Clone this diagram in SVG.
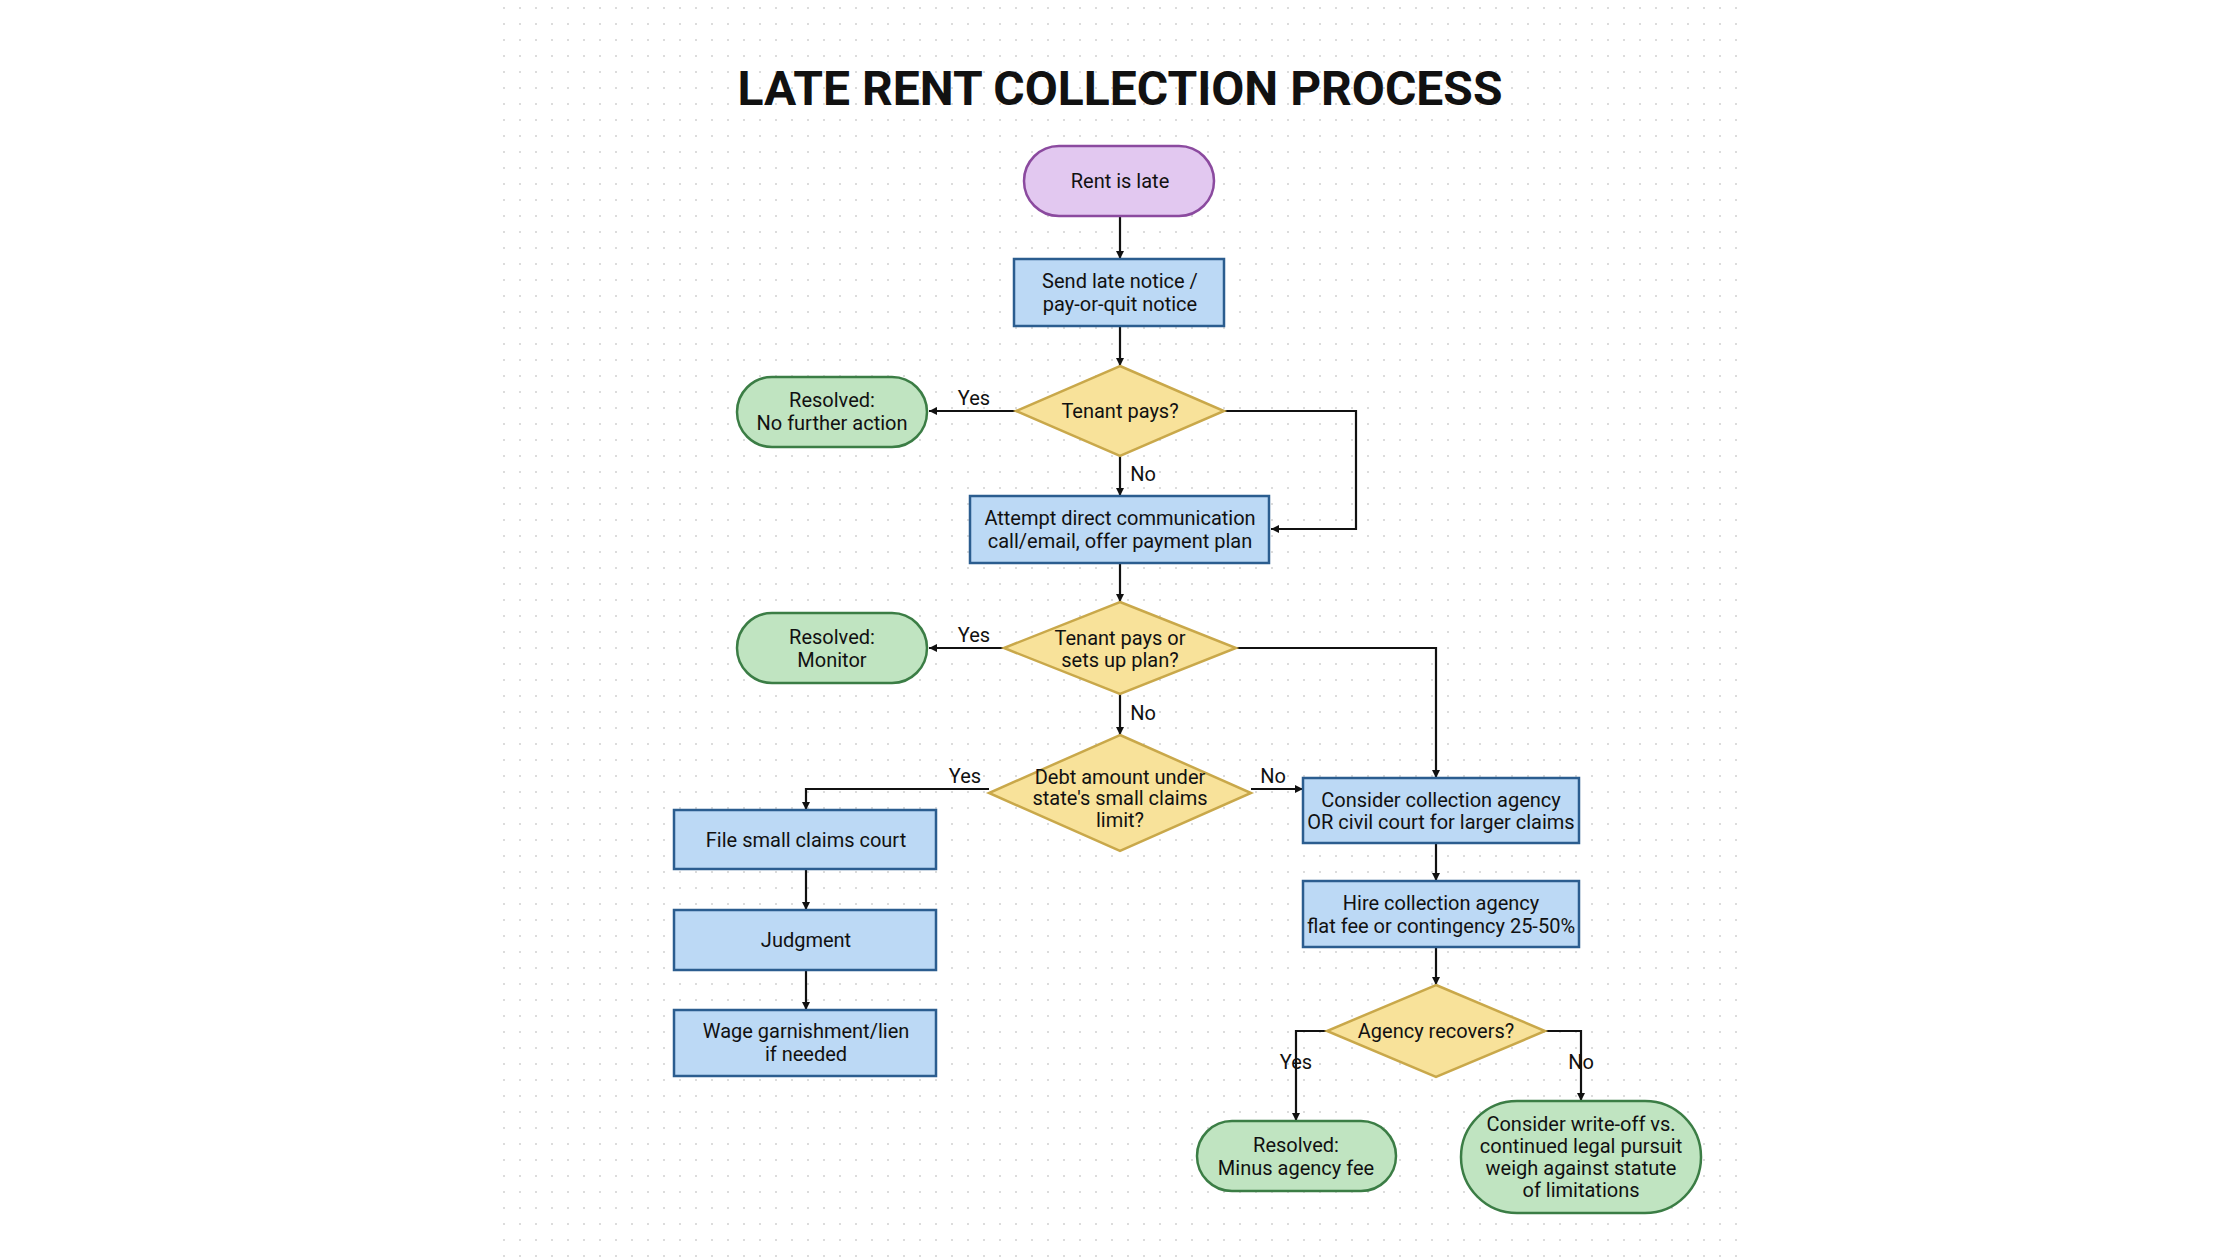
<svg xmlns="http://www.w3.org/2000/svg" width="2240" height="1260" viewBox="0 0 2240 1260">
<defs>
<pattern id="dots" width="16" height="16" patternUnits="userSpaceOnUse"><circle cx="8" cy="8" r="1.1" fill="#d4d4d4"/></pattern>
<marker id="ah" viewBox="0 0 10 10" refX="10" refY="5" markerWidth="8" markerHeight="8" markerUnits="userSpaceOnUse" orient="auto"><path d="M0,0 L10,5 L0,10 z" fill="#111"/></marker>
</defs>
<style>
text{font-family:Roboto,"Liberation Sans",sans-serif;font-size:20px;fill:#111;text-anchor:middle}
.t{font-size:48px;font-weight:bold}
.purple{fill:#e2c8f0;stroke:#8b4a9f;stroke-width:2.5}
.blue{fill:#bcd9f5;stroke:#2b5d8f;stroke-width:2.5}
.yellow{fill:#f8e29a;stroke:#c9a84a;stroke-width:2.5}
.green{fill:#c0e4c1;stroke:#3b7d45;stroke-width:2.5}
.c{fill:none;stroke:#111;stroke-width:2.2;marker-end:url(#ah)}
</style>
<rect width="2240" height="1260" fill="#fff"/>
<rect x="493" y="0" width="1250" height="1260" fill="url(#dots)"/>
<text class="t" x="1120" y="105">LATE RENT COLLECTION PROCESS</text>
<g id="connectors">
<path class="c" d="M1120,216 V259"/>
<path class="c" d="M1120,326 V366"/>
<path class="c" d="M1016,411 H929"/>
<path class="c" d="M1120,456 V496"/>
<path class="c" d="M1224,411 H1356 V529 H1271"/>
<path class="c" d="M1120,563 V602"/>
<path class="c" d="M1004,648 H929"/>
<path class="c" d="M1236,648 H1436 V778"/>
<path class="c" d="M1120,694 V735"/>
<path class="c" d="M989,789 H806 V810"/>
<path class="c" d="M1251,789 H1303"/>
<path class="c" d="M806,869 V910"/>
<path class="c" d="M806,970 V1010"/>
<path class="c" d="M1436,843 V881"/>
<path class="c" d="M1436,947 V985"/>
<path class="c" d="M1327,1031 H1296 V1121"/>
<path class="c" d="M1545,1031 H1581 V1101"/>
<text x="974" y="405">Yes</text>
<text x="1143" y="481">No</text>
<text x="974" y="642">Yes</text>
<text x="1143" y="720">No</text>
<text x="965" y="783">Yes</text>
<text x="1273" y="783">No</text>
<text x="1296" y="1069">Yes</text>
<text x="1581" y="1069">No</text>
</g>
<g id="start"><rect class="purple" x="1024" y="146" width="190" height="70" rx="35"/><text x="1120" y="188">Rent is late</text></g>
<g id="notice"><rect class="blue" x="1014" y="259" width="210" height="67"/><text x="1120" y="288">Send late notice /</text><text x="1120" y="311">pay-or-quit notice</text></g>
<g id="d1"><polygon class="yellow" points="1120,366 1224,411 1120,456 1016,411"/><text x="1120" y="418">Tenant pays?</text></g>
<g id="r1"><rect class="green" x="737" y="377" width="190" height="70" rx="35"/><text x="832" y="407">Resolved:</text><text x="832" y="430">No further action</text></g>
<g id="attempt"><rect class="blue" x="970" y="496" width="299" height="67"/><text x="1120" y="525">Attempt direct communication</text><text x="1120" y="548">call/email, offer payment plan</text></g>
<g id="d2"><polygon class="yellow" points="1120,602 1236,648 1120,694 1004,648"/><text x="1120" y="645">Tenant pays or</text><text x="1120" y="667">sets up plan?</text></g>
<g id="r2"><rect class="green" x="737" y="613" width="190" height="70" rx="35"/><text x="832" y="644">Resolved:</text><text x="832" y="667">Monitor</text></g>
<g id="d3"><polygon class="yellow" points="1120,735 1251,793 1120,851 989,793"/><text x="1120" y="784">Debt amount under</text><text x="1120" y="805">state's small claims</text><text x="1120" y="827">limit?</text></g>
<g id="file"><rect class="blue" x="674" y="810" width="262" height="59"/><text x="806" y="847">File small claims court</text></g>
<g id="judgment"><rect class="blue" x="674" y="910" width="262" height="60"/><text x="806" y="947">Judgment</text></g>
<g id="wage"><rect class="blue" x="674" y="1010" width="262" height="66"/><text x="806" y="1038">Wage garnishment/lien</text><text x="806" y="1061">if needed</text></g>
<g id="consider"><rect class="blue" x="1303" y="778" width="276" height="65"/><text x="1441" y="807">Consider collection agency</text><text x="1441" y="829">OR civil court for larger claims</text></g>
<g id="hire"><rect class="blue" x="1303" y="881" width="276" height="66"/><text x="1441" y="910">Hire collection agency</text><text x="1441" y="933">flat fee or contingency 25-50%</text></g>
<g id="d4"><polygon class="yellow" points="1436,985 1545,1031 1436,1077 1327,1031"/><text x="1436" y="1038">Agency recovers?</text></g>
<g id="r3"><rect class="green" x="1197" y="1121" width="199" height="70" rx="35"/><text x="1296" y="1152">Resolved:</text><text x="1296" y="1175">Minus agency fee</text></g>
<g id="writeoff"><rect class="green" x="1461" y="1101" width="240" height="112" rx="56"/><text x="1581" y="1131">Consider write-off vs.</text><text x="1581" y="1153">continued legal pursuit</text><text x="1581" y="1175">weigh against statute</text><text x="1581" y="1197">of limitations</text></g>
</svg>
